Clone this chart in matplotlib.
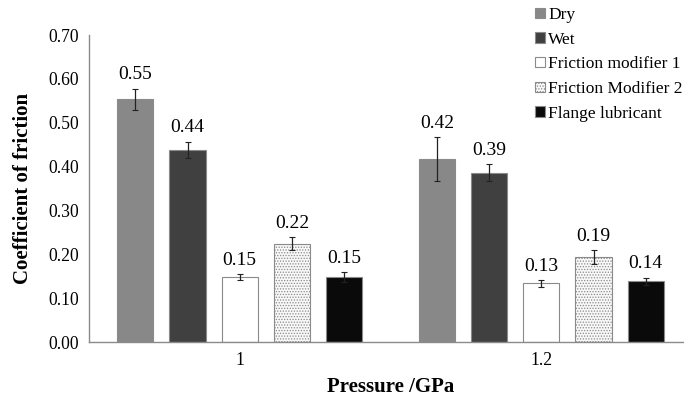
import matplotlib.pyplot as plt
import numpy as np

plt.rcParams['font.family'] = ['Liberation Serif', 'DejaVu Serif']
plt.rcParams['hatch.color'] = '#b5b5b5'
plt.rcParams['hatch.linewidth'] = 0.6

pressures = ['1', '1.2']
series = ['Dry', 'Wet', 'Friction modifier 1', 'Friction Modifier 2', 'Flange lubricant']
dry = [0.554, 0.417]
wet = [0.438, 0.386]
fm1 = [0.148, 0.134]
fm2 = [0.224, 0.194]
flange = [0.148, 0.139]
dry_err = [0.024, 0.050]
wet_err = [0.019, 0.019]
fm1_err = [0.007, 0.008]
fm2_err = [0.015, 0.015]
flange_err = [0.011, 0.008]

values = [dry, wet, fm1, fm2, flange]
errors = [dry_err, wet_err, fm1_err, fm2_err, flange_err]
colors = ['#888888', '#404040', 'white', '#f8f8f8', '#0a0a0a']
hatches = [None, None, None, '......', None]

fig = plt.figure(figsize=(6.84, 4.03), dpi=100)
ax = fig.add_axes([0.130, 0.151, 0.882, 0.762])

x = np.arange(len(pressures))
step = 0.173
width = 0.12
for i, (name, vals, errs) in enumerate(zip(series, values, errors)):
    pos = x + (i - 2) * step
    ax.bar(pos, vals, width, color=colors[i], edgecolor='#8a8a8a',
           linewidth=0.8, hatch=hatches[i], label=name,
           yerr=errs, error_kw=dict(ecolor='#222222', elinewidth=0.9,
                                    capsize=2, capthick=0.8))
    for p, v, e in zip(pos, vals, errs):
        ax.text(p, v + e + 0.012, f'{v:.2f}', ha='center', va='bottom', fontsize=14)

ax.set_xlim(-0.5, 1.5)
ax.set_ylim(0, 0.70)
ax.set_yticks(np.arange(0, 0.71, 0.1))
ax.set_yticklabels([f'{t:.2f}' for t in np.arange(0, 0.71, 0.1)], fontsize=12.7)
ax.set_xticks(x)
ax.set_xticklabels(pressures, fontsize=12.7)
ax.tick_params(length=0, pad=7, axis='x')
ax.tick_params(length=0, pad=7, axis='y')
for s in ['top', 'right']:
    ax.spines[s].set_visible(False)
for s in ['left', 'bottom']:
    ax.spines[s].set_color('#8a8a8a')
    ax.spines[s].set_linewidth(1.0)

ax.set_ylabel('Coefficient of friction', fontsize=15, fontweight='bold', labelpad=11)
ax.set_xlabel('Pressure /GPa', fontsize=15, fontweight='bold', labelpad=6)

fig.legend(loc='upper left', bbox_to_anchor=(0.772, 1.0), frameon=False, fontsize=12.5,
           handlelength=0.55, handleheight=0.55, handletextpad=0.2, labelspacing=0.5,
           borderaxespad=0.0)

fig.savefig('out.png', dpi=100)
